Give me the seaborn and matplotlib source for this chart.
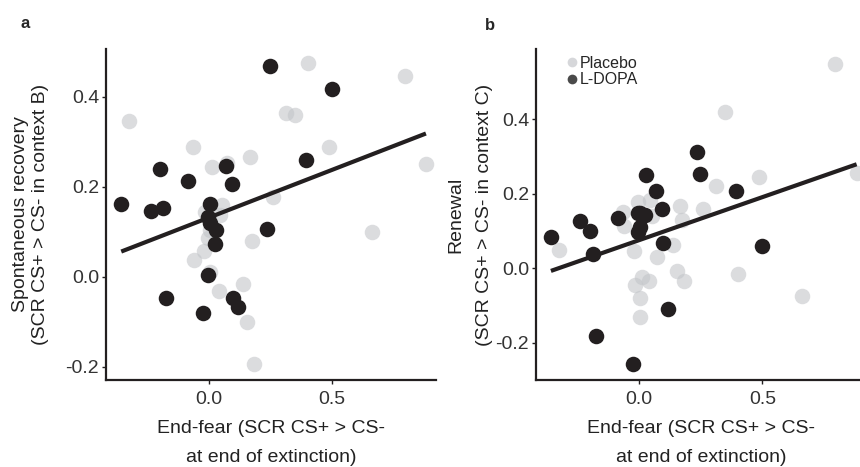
import numpy as np
import pandas as pd
import matplotlib
matplotlib.use("Agg")
import matplotlib.pyplot as plt
import seaborn as sns
from matplotlib.lines import Line2D

# End-of-extinction fear (x) and the two return-of-fear measures (y) per participant
ldopa_endfear = [-0.357, -0.238, -0.199, -0.188, -0.176, -0.086, -0.023, -0.005, -0.003,
                 0.002, 0.004, 0.025, 0.030, 0.068, 0.095, 0.099, 0.118, 0.235, 0.248,
                 0.393, 0.499]
ldopa_spont = [0.162, 0.147, 0.239, 0.152, -0.048, 0.213, -0.081, 0.004, 0.133,
               0.161, 0.120, 0.072, 0.104, 0.246, 0.206, -0.047, -0.068, 0.106, 0.468,
               0.259, 0.416]
ldopa_renewal = [0.085, 0.128, 0.099, 0.038, -0.182, 0.134, -0.258, 0.098, 0.149,
                 0.112, 0.148, 0.143, 0.250, 0.207, 0.158, 0.067, -0.110, 0.313, 0.253,
                 0.207, 0.061]

placebo_endfear = [-0.325, -0.064, -0.062, -0.020, -0.016, -0.003, 0.004, 0.002, 0.013,
                   0.042, 0.045, 0.052, 0.072, 0.138, 0.153, 0.167, 0.174, 0.183, 0.261,
                   0.314, 0.350, 0.402, 0.487, 0.661, 0.795, 0.882]
placebo_spont = [0.346, 0.289, 0.037, 0.057, 0.144, 0.085, 0.104, 0.011, 0.244,
                 -0.032, 0.137, 0.159, 0.252, -0.017, -0.100, 0.267, 0.079, -0.195, 0.178,
                 0.363, 0.359, 0.474, 0.289, 0.099, 0.446, 0.250]
placebo_renewal = [0.049, 0.152, 0.114, 0.047, -0.045, 0.179, -0.081, -0.132, -0.024,
                   -0.033, 0.183, 0.140, 0.030, 0.063, -0.007, 0.168, 0.130, -0.034, 0.159,
                   0.222, 0.420, -0.015, 0.246, -0.074, 0.550, 0.256]

group_names = ["Placebo", "L-DOPA"]
xticks = [0.0, 0.5]
xtick_labels = ["0.0", "0.5"]
yticks = [-0.2, 0.0, 0.2, 0.4]
ytick_labels = ["-0.2", "0.0", "0.2", "0.4"]

df = pd.DataFrame({
    "group": [group_names[0]] * len(placebo_endfear) + [group_names[1]] * len(ldopa_endfear),
    "endfear": placebo_endfear + ldopa_endfear,
    "spont": placebo_spont + ldopa_spont,
    "renewal": placebo_renewal + ldopa_renewal,
})

sns.set_theme(style="ticks")
plt.rcParams["font.family"] = ["Liberation Sans", "DejaVu Sans"]
plt.rcParams["axes.linewidth"] = 1.6

DARK = "#231f20"
LIGHT = "#c3c5c9"
FS = 14

fig = plt.figure(figsize=(8.6, 4.67), dpi=100)
W, H = 860, 467
ax_a = fig.add_axes([106 / W, 87 / H, 330 / W, 331 / H])
ax_b = fig.add_axes([536 / W, 87 / H, 330 / W, 331 / H])

# axes, y column, y label, x limits, y limits, y-label x position, y-label line spacing
panels = [
    (ax_a, "spont", "Spontaneous recovery\n(SCR CS+ > CS- in context B)",
     (-0.419, 0.923), (-0.2296, 0.506), -0.229, 1.2),
    (ax_b, "renewal", "Renewal\n(SCR CS+ > CS- in context C)",
     (-0.4175, 0.920), (-0.300, 0.589), -0.200, 1.9),
]

for ax, ycol, ylabel, xlim, ylim, ylab_x, ylab_ls in panels:
    sub_p = df[df["group"] == group_names[0]]
    sub_l = df[df["group"] == group_names[1]]
    sns.scatterplot(data=sub_p, x="endfear", y=ycol, ax=ax, color=LIGHT, alpha=0.6,
                    s=125, linewidth=0, legend=False, zorder=2)
    sns.scatterplot(data=sub_l, x="endfear", y=ycol, ax=ax, color=DARK, alpha=1,
                    s=125, linewidth=0, legend=False, zorder=3)
    sns.regplot(data=df, x="endfear", y=ycol, ax=ax, scatter=False, ci=None,
                color=DARK, line_kws=dict(lw=3, solid_capstyle="butt", zorder=4))
    ax.set_xlim(*xlim)
    ax.set_ylim(*ylim)
    ax.set_xticks(xticks)
    ax.set_xticklabels(xtick_labels)
    ax.set_yticks(yticks)
    ax.set_yticklabels(ytick_labels)
    ax.tick_params(axis="both", length=3, width=1, labelsize=FS, color=DARK,
                   labelcolor="#333333")
    ax.tick_params(axis="x", pad=5)
    ax.tick_params(axis="y", pad=2)
    ax.set_xlabel("End-fear (SCR CS+ > CS-\nat end of extinction)", fontsize=FS,
                  linespacing=1.9, color="#222222", va="center")
    ax.xaxis.set_label_coords(0.5, -0.19)
    ax.set_ylabel(ylabel, fontsize=FS, linespacing=ylab_ls, color="#222222", va="center")
    ax.yaxis.set_label_coords(ylab_x, 0.5)
    for side in ["top", "right"]:
        ax.spines[side].set_visible(False)
    for side in ["left", "bottom"]:
        ax.spines[side].set_color(DARK)

handles = [
    Line2D([], [], marker="o", linestyle="none", markersize=7, markerfacecolor="#d6d7da",
           markeredgewidth=0, label=group_names[0]),
    Line2D([], [], marker="o", linestyle="none", markersize=7, markerfacecolor="#4a4a4a",
           markeredgewidth=0, label=group_names[1]),
]
ax_b.legend(handles=handles, loc="upper left", bbox_to_anchor=(0.09, 0.98), frameon=False,
            fontsize=11.5, handlelength=0.8, handletextpad=0.1, labelspacing=0.1,
            borderpad=0, borderaxespad=0)

fig.text(25 / W, 1 - 23 / H, "a", fontsize=12, fontweight="bold", ha="center", va="center")
fig.text(490 / W, 1 - 26 / H, "b", fontsize=12, fontweight="bold", ha="center", va="center")

fig.savefig("out.png", dpi=100)
